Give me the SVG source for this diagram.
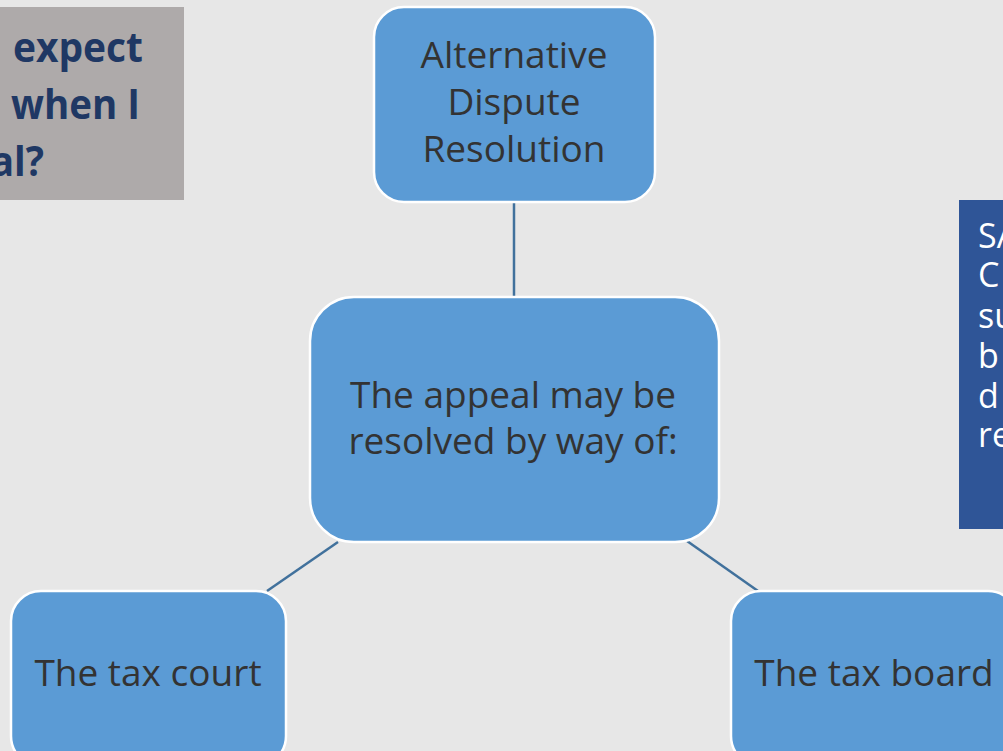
<svg xmlns="http://www.w3.org/2000/svg" width="1003" height="751" viewBox="0 0 1003 751">
<style>
.node{fill:#5b9bd5;stroke:#ffffff;stroke-width:2.5}
.nt{font-family:"Open Sans","Noto Sans",sans-serif;font-size:37px;fill:#333333;text-anchor:middle}
.conn{stroke:#41719c;stroke-width:2.5;fill:none}
.title{font-family:"Open Sans","Noto Sans",sans-serif;font-weight:bold;font-size:42px;fill:#1f3864}
.side{font-family:"Open Sans","Noto Sans",sans-serif;font-size:34px;fill:#ffffff}
</style>
<rect x="0" y="0" width="1003" height="751" fill="#e7e7e7"/>
<g id="title-box">
<rect x="0" y="7" width="184" height="193" fill="#aeaaaa"/>
<text class="title" x="13" y="62" textLength="130" lengthAdjust="spacingAndGlyphs">expect</text>
<text class="title" x="11" y="119" textLength="129" lengthAdjust="spacingAndGlyphs">when I</text>
<text class="title" x="-9" y="176" textLength="53" lengthAdjust="spacingAndGlyphs">al?</text>
</g>
<g id="side-box">
<rect x="959" y="200" width="50" height="329" fill="#2f5597"/>
<text class="side" x="978" y="248">SA</text>
<text class="side" x="978" y="287">C</text>
<text class="side" x="978" y="328">su</text>
<text class="side" x="978" y="368">b</text>
<text class="side" x="978" y="408">d</text>
<text class="side" x="978" y="447">re</text>
</g>
<g id="connectors">
<line class="conn" x1="514" y1="202" x2="514" y2="297"/>
<line class="conn" x1="338" y1="542" x2="267" y2="591"/>
<line class="conn" x1="687" y1="541" x2="758" y2="591"/>
</g>
<g id="adr">
<rect class="node" x="374" y="7" width="281" height="195" rx="30"/>
<text class="nt" x="514" y="68">Alternative</text>
<text class="nt" x="514" y="115">Dispute</text>
<text class="nt" x="514" y="162">Resolution</text>
</g>
<g id="center">
<rect class="node" x="310" y="297" width="409" height="245" rx="44"/>
<text class="nt" x="513" y="408">The appeal may be</text>
<text class="nt" x="513" y="454">resolved by way of:</text>
</g>
<g id="tax-court">
<rect class="node" x="11" y="591" width="275" height="175" rx="30"/>
<text class="nt" x="148" y="686">The tax court</text>
</g>
<g id="tax-board">
<rect class="node" x="731" y="591" width="287" height="175" rx="30"/>
<text class="nt" x="874" y="686">The tax board</text>
</g>
</svg>
